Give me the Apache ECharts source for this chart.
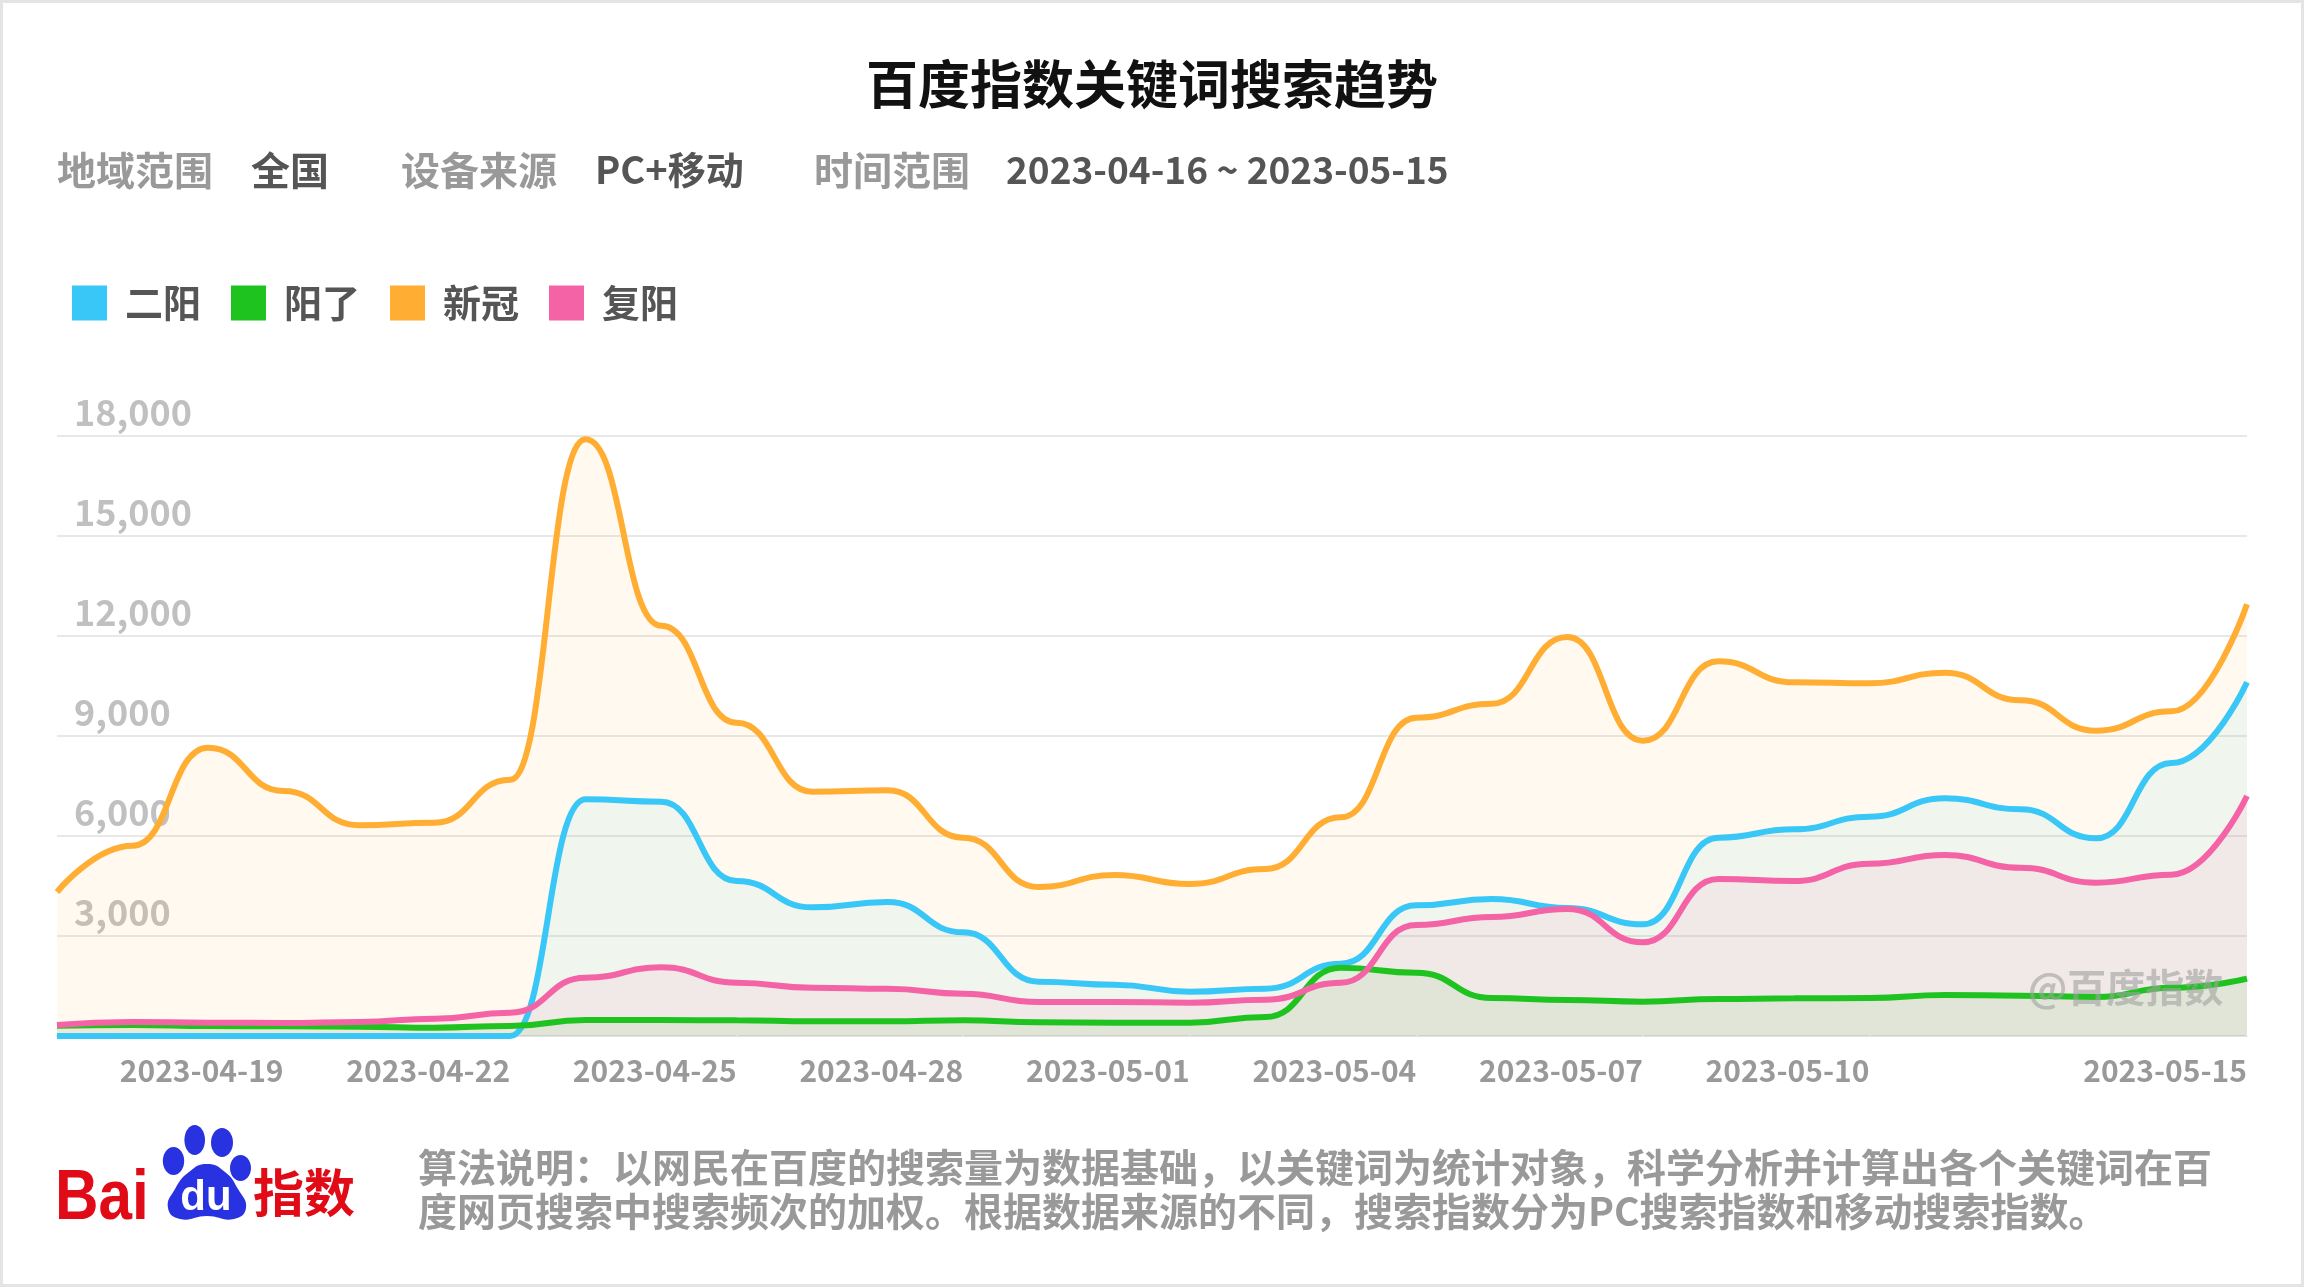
<!DOCTYPE html>
<html>
<head>
<meta charset="utf-8">
<title>百度指数关键词搜索趋势</title>
<script src="https://cdn.jsdelivr.net/npm/echarts@6/dist/echarts.min.js"></script>
<style>
  html, body {
    margin: 0;
    padding: 0;
    background: #ffffff;
  }
  #main {
    width: 2304px;
    height: 1287px;
  }
  .frame {
    position: absolute;
    left: 0;
    top: 0;
    width: 2304px;
    height: 1287px;
    box-sizing: border-box;
    border: 3px solid #e4e4e4;
    pointer-events: none;
  }
</style>
</head>
<body>
<div id="main"></div>
<div class="frame"></div>
<script>
  // 日期 2023-04-16 ~ 2023-05-15
  var dates = [
    '2023-04-16', '2023-04-17', '2023-04-18', '2023-04-19', '2023-04-20', '2023-04-21',
    '2023-04-22', '2023-04-23', '2023-04-24', '2023-04-25', '2023-04-26', '2023-04-27',
    '2023-04-28', '2023-04-29', '2023-04-30', '2023-05-01', '2023-05-02', '2023-05-03',
    '2023-05-04', '2023-05-05', '2023-05-06', '2023-05-07', '2023-05-08', '2023-05-09',
    '2023-05-10', '2023-05-11', '2023-05-12', '2023-05-13', '2023-05-14', '2023-05-15'
  ];

  // 各关键词搜索指数
  var erYang = [0, 0, 0, 0, 0, 0, 0, 7100, 7030, 4650, 3860, 4020, 3110, 1630, 1540, 1330, 1420, 2170, 3920, 4110, 3840, 3350, 5950, 6200, 6580, 7130, 6800, 5930, 8190, 10610];
  var yangLe = [310, 330, 300, 290, 280, 250, 300, 480, 480, 470, 440, 440, 470, 410, 400, 400, 570, 2050, 1900, 1140, 1080, 1030, 1110, 1130, 1140, 1230, 1210, 1170, 1450, 1720];
  var xinGuan = [4320, 5710, 8650, 7350, 6320, 6400, 7690, 17900, 12310, 9400, 7330, 7370, 5950, 4470, 4830, 4560, 5010, 6560, 9550, 9970, 11970, 8860, 11240, 10610, 10580, 10900, 10070, 9160, 9740, 12950];
  var fuYang = [330, 420, 400, 390, 420, 520, 700, 1750, 2060, 1600, 1450, 1420, 1270, 1020, 1020, 1000, 1090, 1600, 3330, 3570, 3810, 2810, 4710, 4650, 5170, 5430, 5050, 4600, 4840, 7200];

  // y 轴刻度
  var yTicks = [0, 3000, 6000, 9000, 12000, 15000, 18000];

  var names = ['二阳', '阳了', '新冠', '复阳'];
  var colors = ['#38c7f7', '#1fc31f', '#ffae33', '#f363a5'];
  var font = '"Noto Sans CJK SC", "Noto Sans", sans-serif';
  var latin = '"Liberation Sans", Arial, sans-serif';

  var myChart = echarts.init(document.getElementById('main'));

  function makeSeries(name, data, color) {
    return {
      name: name,
      type: 'line',
      data: data,
      smooth: 0.5,
      smoothMonotone: 'x',
      symbol: 'none',
      clip: false,
      lineStyle: { width: 6, color: color },
      itemStyle: { color: color },
      areaStyle: { color: color, opacity: 0.08 },
      emphasis: { disabled: true }
    };
  }

  function label(x, y, text, color, size) {
    return {
      type: 'text',
      x: x,
      y: y,
      style: {
        text: text,
        fill: color,
        fontSize: size,
        fontWeight: 'bold',
        fontFamily: font,
        verticalAlign: 'middle'
      }
    };
  }

  function toe(cx, cy, rx, ry) {
    return { type: 'ellipse', shape: { cx: cx, cy: cy, rx: rx, ry: ry }, style: { fill: '#2932e1' } };
  }

  function showTick(i) {
    return (i % 3 === 0 && i > 0 && i < 27) || i === 29;
  }

  var option = {
    animation: false,
    backgroundColor: '#ffffff',
    color: colors,
    legend: {
      data: names,
      left: 72,
      top: 284,
      padding: 0,
      icon: 'rect',
      itemWidth: 35,
      itemHeight: 35,
      itemGap: 30,
      selectedMode: false,
      textStyle: {
        fontSize: 38,
        fontWeight: 'bold',
        color: '#555555',
        fontFamily: font,
        padding: [0, 0, 0, 13]
      }
    },
    grid: {
      left: 57,
      right: 57,
      top: 436,
      bottom: 251,
      containLabel: false,
      outerBoundsMode: 'none'
    },
    xAxis: {
      type: 'category',
      data: dates,
      boundaryGap: false,
      axisLine: { lineStyle: { color: '#e3e3e3', width: 2 } },
      axisTick: {
        show: true,
        inside: true,
        length: 6,
        lineStyle: { color: '#ffffff', width: 2 },
        interval: showTick
      },
      axisLabel: {
        interval: showTick,
        align: 'right',
        margin: 20,
        fontSize: 30,
        fontWeight: 'bold',
        color: '#999999',
        fontFamily: font
      },
      splitLine: { show: false }
    },
    yAxis: {
      type: 'value',
      min: yTicks[0],
      max: yTicks[yTicks.length - 1],
      interval: yTicks[1] - yTicks[0],
      axisLine: { show: false },
      axisTick: { show: false },
      splitLine: { lineStyle: { color: '#e8e8e8', width: 2 } },
      axisLabel: {
        inside: true,
        margin: 17,
        showMinLabel: false,
        verticalAlign: 'bottom',
        padding: [0, 0, 6, 0],
        fontSize: 36,
        fontWeight: 'bold',
        color: '#c0c0c0',
        fontFamily: font,
        formatter: function (v) { return v.toLocaleString('en-US'); }
      }
    },
    graphic: [
      {
        type: 'text',
        x: 1152,
        y: 84,
        style: {
          text: '百度指数关键词搜索趋势',
          fill: '#111111',
          fontSize: 52,
          fontWeight: 'bold',
          fontFamily: font,
          align: 'center',
          verticalAlign: 'middle'
        }
      },
      label(57, 170, '地域范围', '#999999', 39),
      label(251, 170, '全国', '#555555', 39),
      label(401, 170, '设备来源', '#999999', 39),
      label(595, 170, 'PC+移动', '#555555', 38),
      label(814, 170, '时间范围', '#999999', 39),
      label(1006, 170, '2023-04-16 ~ 2023-05-15', '#555555', 37),
      {
        type: 'text',
        x: 2028,
        y: 987,
        z: 100,
        style: {
          text: '@百度指数',
          fill: 'rgba(160,160,160,0.6)',
          fontSize: 39,
          fontWeight: 'bold',
          fontFamily: font,
          verticalAlign: 'middle'
        }
      },
      // 百度指数 logo
      {
        type: 'text',
        x: 55,
        y: 1200,
        scaleX: 0.86,
        style: {
          text: 'Bai',
          fill: '#e10b17',
          fontSize: 70,
          fontWeight: 'bold',
          fontFamily: latin,
          verticalAlign: 'middle'
        }
      },
      toe(173.5, 1161, 10.7, 14),
      toe(194.7, 1140, 10.3, 15),
      toe(222, 1142.5, 11, 14.5),
      toe(240.5, 1168, 10.5, 13),
      {
        type: 'polygon',
        shape: {
          points: [[207, 1164], [225, 1172], [238, 1189], [246, 1208], [234, 1219], [207, 1216], [180, 1219], [168, 1208], [175, 1189], [189, 1172]],
          smooth: 0.5
        },
        style: { fill: '#2932e1' }
      },
      {
        type: 'text',
        x: 206,
        y: 1198,
        style: {
          text: 'du',
          fill: '#ffffff',
          fontSize: 42,
          fontWeight: 'bold',
          fontFamily: latin,
          align: 'center',
          verticalAlign: 'middle'
        }
      },
      {
        type: 'text',
        x: 253,
        y: 1193,
        style: {
          text: '指数',
          fill: '#e10b17',
          fontSize: 51,
          fontWeight: 'bold',
          fontFamily: font,
          verticalAlign: 'middle'
        }
      },
      {
        type: 'text',
        x: 418,
        y: 1189,
        style: {
          text: '算法说明：以网民在百度的搜索量为数据基础，以关键词为统计对象，科学分析并计算出各个关键词在百\n度网页搜索中搜索频次的加权。根据数据来源的不同，搜索指数分为PC搜索指数和移动搜索指数。',
          fill: '#999999',
          fontSize: 39,
          lineHeight: 44,
          fontWeight: 'bold',
          fontFamily: font,
          verticalAlign: 'middle'
        }
      }
    ],
    series: [
      makeSeries(names[0], erYang, colors[0]),
      makeSeries(names[1], yangLe, colors[1]),
      makeSeries(names[2], xinGuan, colors[2]),
      makeSeries(names[3], fuYang, colors[3])
    ]
  };

  if (option && typeof option === 'object') {
    myChart.setOption(option, true);
  }
  window.addEventListener('resize', function () {
    myChart.resize();
  });
</script>
</body>
</html>
